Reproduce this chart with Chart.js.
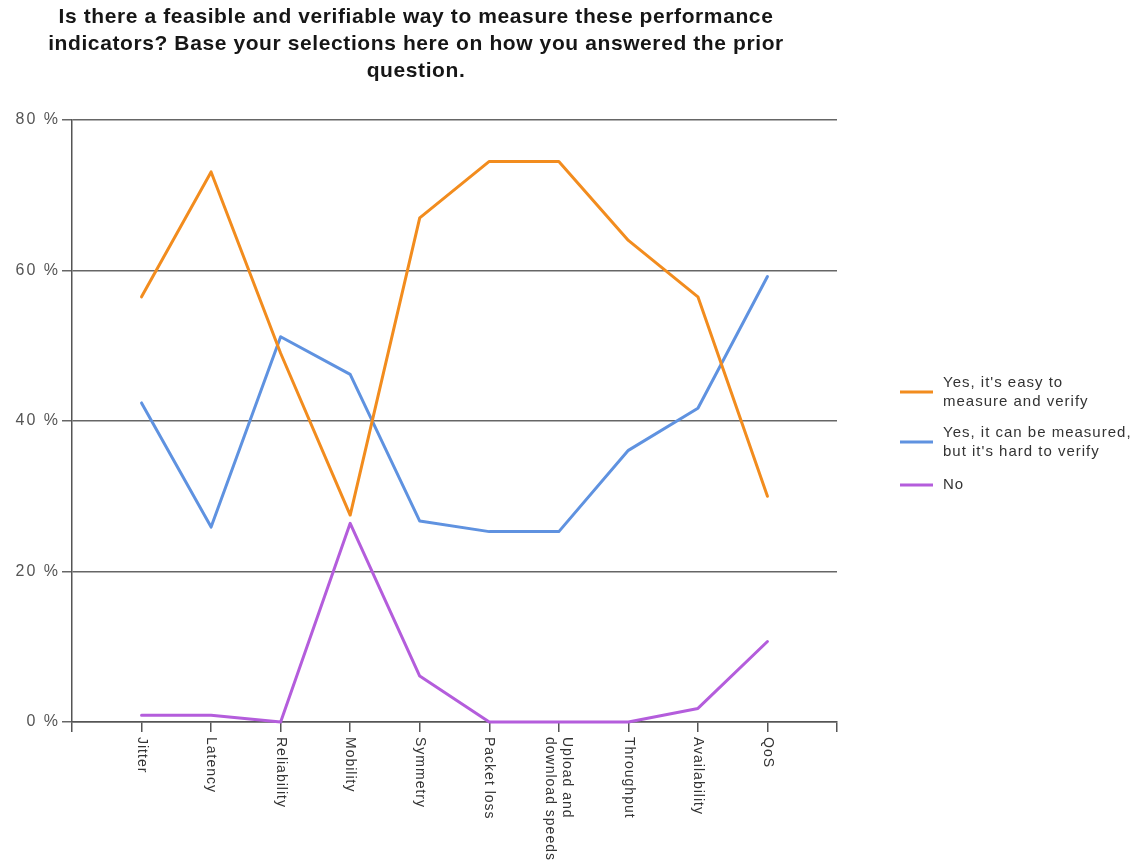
<!DOCTYPE html>
<html>
<head>
<meta charset="utf-8">
<script src="https://cdn.jsdelivr.net/npm/chart.js@4.4.1/dist/chart.umd.min.js"></script>
<style>
  body { margin: 0; background: #fff; }
  #wrap { width: 1138px; height: 862px; }
</style>
</head>
<body>
<div id="wrap"><canvas id="chart" width="1138" height="862"></canvas></div>
<script>
var titleLines = [
    'Is there a feasible and verifiable way to measure these performance',
    'indicators? Base your selections here on how you answered the prior',
    'question.'
];

var categories = ['Jitter', 'Latency', 'Reliability', 'Mobility', 'Symmetry', 'Packet loss',
    'Upload and\ndownload speeds', 'Throughput', 'Availability', 'QoS'];

var easyToVerify  = [56.5, 73.1, 49.0, 27.5, 67.0, 74.5, 74.5, 64.0, 56.5, 30.0];
var hardToVerify  = [42.4, 25.9, 51.2, 46.2, 26.7, 25.3, 25.3, 36.1, 41.7, 59.2];
var notMeasurable = [0.9, 0.9, 0, 26.4, 6.1, 0, 0, 0, 1.8, 10.7];

var seriesNames = [
    ['Yes, it\'s easy to', 'measure and verify'],
    ['Yes, it can be measured,', 'but it\'s hard to verify'],
    ['No']
];
var seriesColors = ['#f28c1e', '#5f92e0', '#b45ddc'];

var yTicks = [0, 20, 40, 60, 80];

function points(values) {
    return values.map(function(v, i) { return {x: i + 1, y: v}; });
}

const FONT = '"Liberation Sans", Arial, sans-serif';

// title, rotated category names and the side legend are painted by hand
const extras = {
    id: 'extras',
    beforeDraw(chart) {
        // wide spacing for the y tick labels drawn by the scale
        chart.ctx.letterSpacing = '2px';
    },
    afterDraw(chart) {
        const ctx = chart.ctx;
        const xs = chart.scales.x;

        ctx.save();
        ctx.fillStyle = '#161616';
        ctx.font = 'bold 21px ' + FONT;
        ctx.letterSpacing = '0.6px';
        ctx.textAlign = 'center';
        ctx.textBaseline = 'alphabetic';
        titleLines.forEach(function(t, i) {
            ctx.fillText(t, 416, 23 + i * 27);
        });
        ctx.restore();

        ctx.save();
        ctx.fillStyle = '#333';
        ctx.font = '14px ' + FONT;
        ctx.letterSpacing = '1px';
        ctx.textAlign = 'left';
        ctx.textBaseline = 'middle';
        categories.forEach(function(lab, i) {
            const px = xs.getPixelForValue(i + 1);
            const lines = lab.split('\n');
            ctx.save();
            ctx.translate(px, 737);
            ctx.rotate(Math.PI / 2);
            lines.forEach(function(ln, j) {
                ctx.fillText(ln, 0, (j - (lines.length - 1) / 2) * 17);
            });
            ctx.restore();
        });
        ctx.restore();

        ctx.save();
        ctx.font = '15px ' + FONT;
        ctx.letterSpacing = '1px';
        ctx.textAlign = 'left';
        ctx.textBaseline = 'middle';
        const rows = [392, 442, 485];
        seriesNames.forEach(function(lines, i) {
            const cy = rows[i];
            ctx.strokeStyle = seriesColors[i];
            ctx.lineWidth = 3;
            ctx.beginPath();
            ctx.moveTo(900, cy);
            ctx.lineTo(933, cy);
            ctx.stroke();
            ctx.fillStyle = '#333';
            lines.forEach(function(ln, j) {
                ctx.fillText(ln, 943, cy + (j - (lines.length - 1) / 2) * 19);
            });
        });
        ctx.restore();
        ctx.letterSpacing = '0px';
    }
};

const data = {
    datasets: [
        { label: seriesNames[0].join(' '), data: points(easyToVerify), borderColor: seriesColors[0] },
        { label: seriesNames[1].join(' '), data: points(hardToVerify), borderColor: seriesColors[1] },
        { label: seriesNames[2].join(' '), data: points(notMeasurable), borderColor: seriesColors[2] }
    ]
};

const config = {
    type: 'line',
    data: data,
    options: {
        responsive: false,
        animation: false,
        layout: { padding: { top: 120, right: 301, left: 0, bottom: 0 } },
        elements: {
            line: { borderWidth: 3, tension: 0, borderJoinStyle: 'round', borderCapStyle: 'round' },
            point: { radius: 0 }
        },
        datasets: { line: { clip: false } },
        plugins: {
            legend: { display: false },
            title: { display: false },
            tooltip: { enabled: false }
        },
        scales: {
            x: {
                type: 'linear',
                min: 0,
                max: categories.length + 1,
                afterBuildTicks: function(s) {
                    s.ticks = [];
                    for (let k = 0; k <= categories.length + 1; k++) s.ticks.push({value: k});
                },
                afterFit: function(s) { s.height = 140; },
                ticks: { display: false },
                grid: { drawOnChartArea: false, tickLength: 10, color: '#555', lineWidth: 1.5 },
                border: { color: '#555', width: 1.5 }
            },
            y: {
                min: 0,
                max: 80,
                afterBuildTicks: function(s) {
                    s.ticks = yTicks.map(function(v) { return {value: v}; });
                },
                afterFit: function(s) { s.width = 72; },
                ticks: {
                    padding: 2,
                    color: '#555',
                    font: { size: 16, family: FONT },
                    callback: function(v) { return v + ' %'; }
                },
                grid: { color: '#666', lineWidth: 1.5, tickLength: 10 },
                border: { color: '#555', width: 1.5 }
            }
        }
    },
    plugins: [extras]
};

const myChart = new Chart(document.getElementById('chart'), config);
</script>
</body>
</html>
